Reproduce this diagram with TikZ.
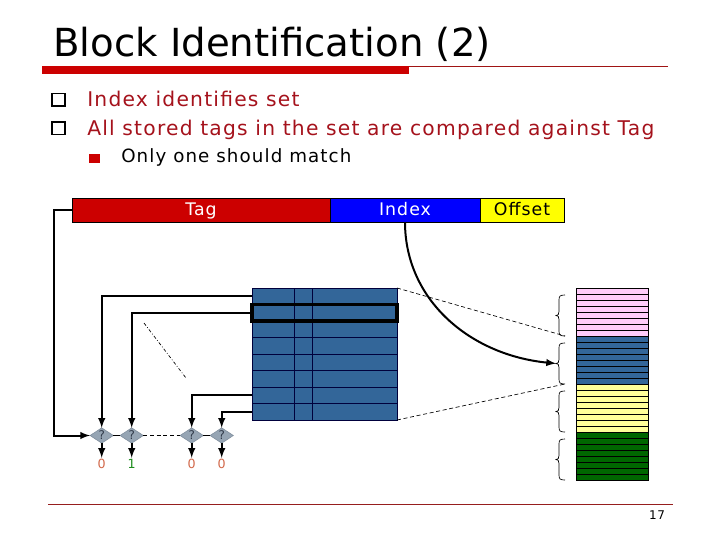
\documentclass[tikz,border=0pt]{standalone}
\usepackage{fontspec}
\setmainfont{DejaVu Sans}[LetterSpace=6]
\newfontfamily\titlefont{DejaVu Sans}
\usetikzlibrary{shapes}
\usetikzlibrary{positioning}

\begin{document}
\begin{tikzpicture}[x=0.75pt,y=0.75pt,yscale=-1,xscale=1,
    wire/.style={line width=1.5pt, -latex},
    fieldbar/.style={draw, line width=0.5pt, minimum height=18pt, text height=10pt, text depth=2pt, inner sep=0pt, outer sep=0pt, font=\fontsize{13}{15}\selectfont},
    cacherow/.style={draw={rgb, 255:red, 0; green, 0; blue, 60 }, line width=0.5pt, fill={rgb, 255:red, 51; green, 102; blue, 153 }, minimum width=108.75pt, minimum height=12.375pt, inner sep=0pt, outer sep=0pt},
    cmp/.style={diamond, fill={rgb, 255:red, 150; green, 165; blue, 180 }, draw={rgb, 255:red, 125; green, 140; blue, 155 }, line width=0.4pt, minimum width=17.5pt, minimum height=11.5pt, inner sep=0pt, outer sep=0pt, font=\fontsize{9}{9}\selectfont, text={rgb, 255:red, 50; green, 60; blue, 75 }},
    bitlabel/.style={inner sep=0.5pt, font=\fontsize{9.5}{10}\selectfont},
    bullettext/.style={anchor=base west, inner sep=0pt, text={rgb, 255:red, 165; green, 18; blue, 28 }, font=\fontsize{15.2}{17}\selectfont},
    ]
    \useasboundingbox (0,0) rectangle (720,540);

    % Text Node
    \node [anchor=base west, inner sep=0pt, font=\titlefont\fontsize{29}{32}\selectfont] (title) at (53,56) {Block Identification (2)};
    %Shape: Rectangle
    \fill [color={rgb, 255:red, 204; green, 0; blue, 0 }] (42,66) rectangle (409,74);
    %Straight Lines
    \draw [color={rgb, 255:red, 160; green, 20; blue, 20 }, line width=0.75pt] (409,66.5) -- (668,66.5);

    %Shape: Square
    \draw [line width=1.2pt] (52,93.5) rectangle (65,106);
    \draw [line width=1.2pt] (52,122) rectangle (65,134.5);
    \fill [color={rgb, 255:red, 204; green, 0; blue, 0 }] (89,154) rectangle (100,162.5);
    % Text Node
    \node [bullettext] (point1) at (87,106) {Index identifies set};
    % Text Node
    \node [bullettext] (point2) at (87,135) {All stored tags in the set are compared against Tag};
    % Text Node
    \node [bullettext, text=black, font=\fontsize{13.7}{15}\selectfont] (subpoint) at (121,162.5) {Only one should match};

    %Address fields
    \node [fieldbar, fill={rgb, 255:red, 204; green, 0; blue, 0 }, text=white, minimum width=193.5pt] (tag) at (201,210) {Tag};
    \node [fieldbar, fill={rgb, 255:red, 0; green, 0; blue, 255 }, text=white, minimum width=112.5pt, right=0pt of tag] (index) {Index};
    \node [fieldbar, fill={rgb, 255:red, 255; green, 255; blue, 0 }, minimum width=63pt, right=0pt of index] (offset) {Offset};

    %Cache sets
    \foreach \r in {1,...,8}
        \node [cacherow] (row\r) at (324.5,{288+16.5*(\r-0.5)}) {};
    \draw [color={rgb, 255:red, 0; green, 0; blue, 60 }, line width=0.5pt] (294,288) -- (294,420) (312,288) -- (312,420);
    \draw [line width=2.5pt] (row2.north west) rectangle (row2.south east);

    %Comparators
    \node [cmp] (cmp1) at (101.7,435.5) {?};
    \node [cmp, right=5pt of cmp1] (cmp2) {?};
    \node [cmp, right=27.5pt of cmp2] (cmp3) {?};
    \node [cmp, right=5pt of cmp3] (cmp4) {?};
    \node [bitlabel, below=11pt of cmp1, text={rgb, 255:red, 210; green, 105; blue, 75 }] (out1) {0};
    \node [bitlabel, below=11pt of cmp2, text={rgb, 255:red, 30; green, 140; blue, 30 }] (out2) {1};
    \node [bitlabel, below=11pt of cmp3, text={rgb, 255:red, 210; green, 105; blue, 75 }] (out3) {0};
    \node [bitlabel, below=11pt of cmp4, text={rgb, 255:red, 210; green, 105; blue, 75 }] (out4) {0};

    %Connections
    \draw [wire] (tag.west) -- ++(-18,0) |- (cmp1.west);
    \draw [wire] (row1.west) -| (cmp1.north);
    \draw [wire] (row2.west) -| (cmp2.north);
    \draw [wire] (row7.west) -| (cmp3.north);
    \draw [wire] (row8.west) -| (cmp4.north);
    \draw [line width=1pt] (cmp1.east) -- (cmp2.west);
    \draw [line width=1pt, dash pattern={on 3pt off 2pt}] (cmp2.east) -- (cmp3.west);
    \draw [line width=1pt] (cmp3.east) -- (cmp4.west);
    \foreach \i in {1,...,4}
        \draw [wire] (cmp\i.south) -- (out\i.north);
    \draw [line width=0.5pt, dash pattern={on 2.5pt off 1.5pt on 0.6pt off 1.5pt}] (144,323) -- (186,378);

    %Memory blocks
    \foreach \c [count=\g from 0] in {{rgb, 255:red, 255; green, 204; blue, 250 },{rgb, 255:red, 51; green, 102; blue, 153 },{rgb, 255:red, 255; green, 255; blue, 153 },{rgb, 255:red, 0; green, 102; blue, 0 }}
        \foreach \r in {0,...,7}
            \draw [fill=\c, line width=0.5pt] (576,{288+48*\g+6*\r}) rectangle ++(72,6);

    %Shape: Brace
    \foreach \g in {0,...,3} {
        \pgfmathsetmacro{\bt}{295+48*\g}
        \pgfmathsetmacro{\bb}{336+48*\g}
        \pgfmathsetmacro{\bm}{(\bt+\bb)/2}
        \coordinate (tip\g) at (556,\bm);
        \coordinate (low\g) at (565,\bb);
        \draw [line width=0.5pt] (565,\bt) .. controls (560,\bt) and (559,\bt+1) .. (559,\bt+5) -- (559,\bm-4) .. controls (559,\bm-1) and (558,\bm) .. (tip\g) .. controls (558,\bm) and (559,\bm+1) .. (559,\bm+4) -- (559,\bb-5) .. controls (559,\bb-1) and (560,\bb) .. (low\g);
    }

    \draw [line width=0.5pt, dash pattern={on 3pt off 2pt}] (row1.north east) -- (low0);
    \draw [line width=0.5pt, dash pattern={on 3pt off 2pt}] (row8.south east) -- (low1);
    \draw [wire] (index.south) .. controls (405,300) and (470,355) .. (tip1);

    %Footer
    \draw [color={rgb, 255:red, 150; green, 30; blue, 30 }, line width=0.75pt] (48,504) -- (673,504);
    % Text Node
    \node [inner sep=0pt, font=\fontsize{9}{10}\selectfont] (pagenum) at (657,515.5) {17};
\end{tikzpicture}
\end{document}
